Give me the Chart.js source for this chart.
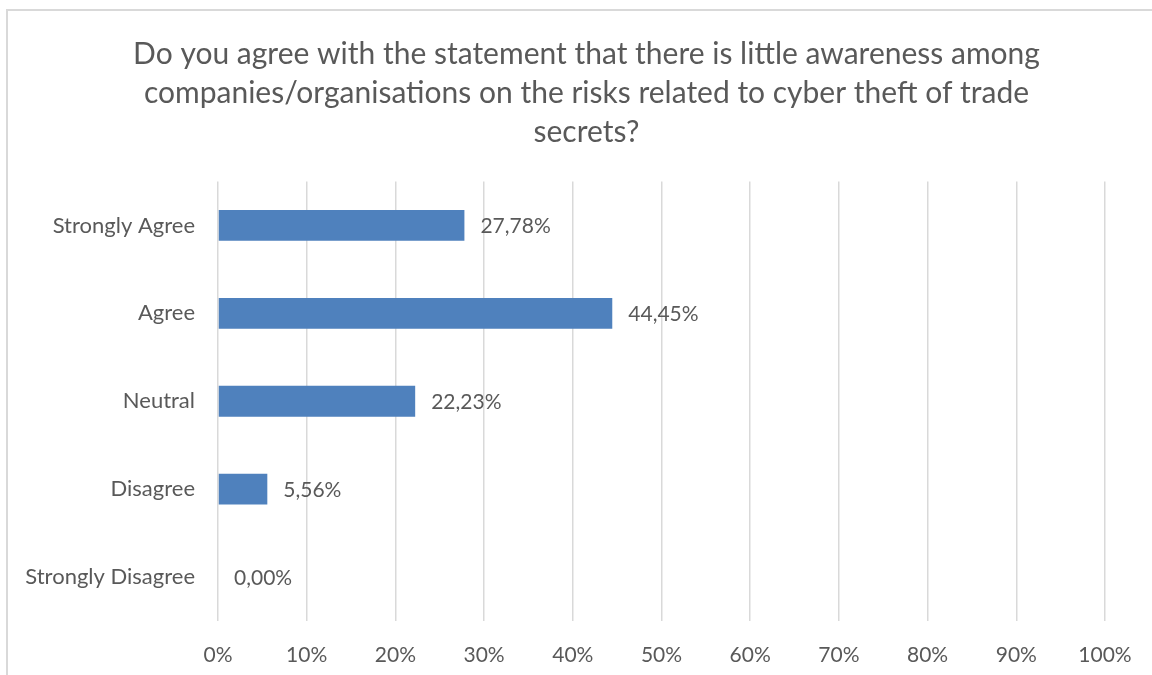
<!DOCTYPE html>
<html>
<head>
<meta charset="utf-8">
<script src="https://cdn.jsdelivr.net/npm/chart.js@4"></script>
<style>
  html, body { margin: 0; padding: 0; background: #fff; overflow: hidden; width: 1152px; height: 675px; }
  #frame { position: absolute; left: 6px; top: 9px; width: 1160px; height: 680px; border: 2px solid #d9d9d9; box-sizing: border-box; background: #fff; }
  #wrap { position: absolute; left: 2px; top: 1px; width: 1156px; height: 665px; }
</style>
</head>
<body>
<div id="frame"><div id="wrap"><canvas id="c"></canvas></div></div>
<script>
const titleLines = [
  'Do you agree with the statement that there is little awareness among',
  'companies/organisations on the risks related to cyber theft of trade',
  'secrets?'
];
const categories = ['Strongly Agree', 'Agree', 'Neutral', 'Disagree', 'Strongly Disagree'];
const shares = [27.78, 44.45, 22.23, 5.56, 0.00];
const tickStep = 10;
const axisMax = 100;

const FONT = 'Lato, Carlito, Calibri, sans-serif';
const GREY = '#595959';

// Three-line heading centred on the whole frame rather than on the padded layout box
const heading = {
  id: 'heading',
  afterDraw(chart) {
    const ctx = chart.ctx;
    ctx.save();
    ctx.font = '30px ' + FONT;
    ctx.fillStyle = GREY;
    ctx.textAlign = 'center';
    ctx.textBaseline = 'middle';
    const cx = chart.width / 2 - 1.5;
    titleLines.forEach((line, i) => ctx.fillText(line, cx, 42 + i * 39.2));
    ctx.restore();
  }
};

// Value labels placed just past the end of each bar
const valueLabels = {
  id: 'valueLabels',
  afterDatasetsDraw(chart) {
    const ctx = chart.ctx;
    const meta = chart.getDatasetMeta(0);
    ctx.save();
    ctx.font = '21px ' + FONT;
    ctx.fillStyle = GREY;
    ctx.textAlign = 'left';
    ctx.textBaseline = 'middle';
    meta.data.forEach((bar, i) => {
      const v = chart.data.datasets[0].data[i];
      const txt = v.toFixed(2).replace('.', ',') + '%';
      ctx.fillText(txt, bar.x + 16, bar.y + 1);
    });
    ctx.restore();
  }
};

new Chart(document.getElementById('c'), {
  type: 'bar',
  data: {
    labels: categories,
    datasets: [{
      data: shares,
      backgroundColor: '#4f81bd',
      borderWidth: 0,
      barPercentage: 0.7,
      categoryPercentage: 0.5
    }]
  },
  options: {
    indexAxis: 'y',
    responsive: true,
    maintainAspectRatio: false,
    animation: false,
    layout: { padding: { left: 0, right: 61, top: 169.5, bottom: 0 } },
    plugins: {
      legend: { display: false },
      tooltip: { enabled: false },
      title: { display: false }
    },
    scales: {
      x: {
        min: 0,
        max: axisMax,
        border: { display: false },
        grid: { color: '#d9d9d9', lineWidth: 1.5, drawTicks: false },
        ticks: {
          stepSize: tickStep,
          padding: 22,
          color: GREY,
          font: { family: FONT, size: 21 },
          callback: v => v + '%'
        },
        afterFit: s => { s.height = 56; }
      },
      y: {
        border: { display: false },
        grid: { display: false, drawTicks: false },
        ticks: {
          padding: 23,
          color: GREY,
          font: { family: FONT, size: 22 }
        },
        afterFit: s => { s.width = 208; }
      }
    }
  },
  plugins: [valueLabels, heading]
});
</script>
</body>
</html>
